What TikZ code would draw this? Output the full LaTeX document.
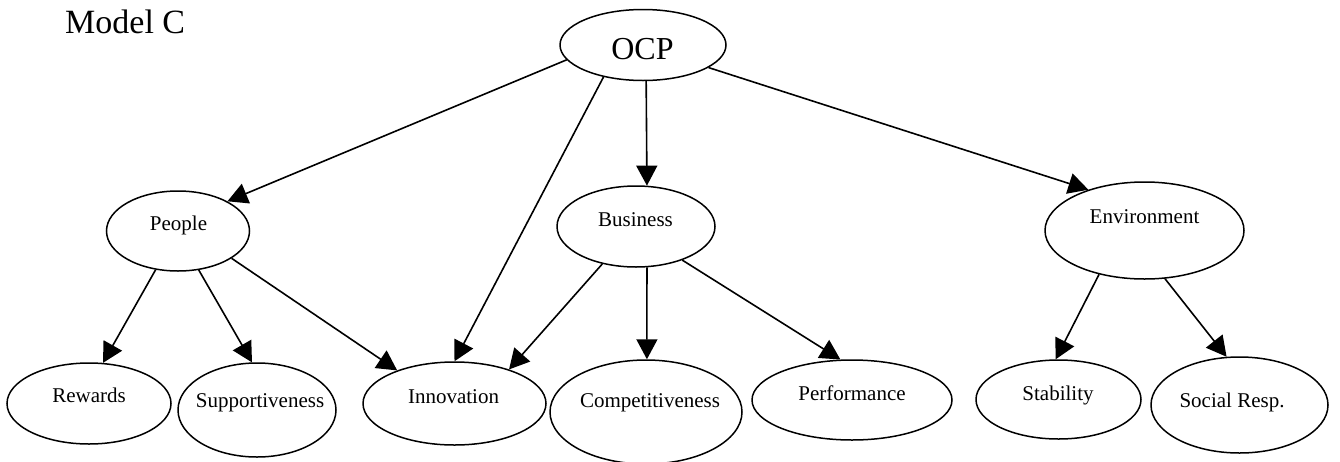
\documentclass[tikz,border=0pt]{standalone}
\usepackage{fontspec}
\setmainfont{Liberation Serif}
\usetikzlibrary{arrows.meta,shapes.geometric}
\begin{document}
\begin{tikzpicture}[x=1pt,y=-1pt,
  ell/.style={draw, ellipse, line width=1.5pt, inner sep=0pt},
  lab/.style={anchor=base, font=\fontsize{21}{25}\selectfont, inner sep=0pt},
  conn/.style={line width=1.6pt, -{Triangle[length=20pt,width=21pt]}}]
\useasboundingbox (0,0) rectangle (1340,461);
% ellipses
\node[ell, minimum width=166pt, minimum height=71pt] (ocp) at (643,45) {};
\node[ell, minimum width=143pt, minimum height=80pt] (people) at (178,231) {};
\node[ell, minimum width=158pt, minimum height=81pt] (business) at (636,226.5) {};
\node[ell, minimum width=199pt, minimum height=97pt] (env) at (1144.5,230.5) {};
\node[ell, minimum width=164pt, minimum height=81pt] (rewards) at (89,403.5) {};
\node[ell, minimum width=158pt, minimum height=94pt] (support) at (257,410) {};
\node[ell, minimum width=183pt, minimum height=83pt] (innov) at (454.5,403.5) {};
\node[ell, minimum width=192pt, minimum height=104pt] (comp) at (646,412) {};
\node[ell, minimum width=200pt, minimum height=80pt] (perf) at (852,400) {};
\node[ell, minimum width=165pt, minimum height=79pt] (stab) at (1058.5,399.5) {};
\node[ell, minimum width=177pt, minimum height=96pt] (social) at (1239.5,405) {};
% texts
\node[anchor=base west, font=\fontsize{34}{40}\selectfont, inner sep=0pt] (title) at (65,33) {Model C};
\node[lab, font=\fontsize{32}{38}\selectfont] (tocp) at (642.5,59) {OCP};
\node[lab] (tpeople) at (178.5,230) {People};
\node[lab] (tbusiness) at (635.5,226.5) {Business};
\node[lab] (tenv) at (1144.5,223.5) {Environment};
\node[lab] (trewards) at (89,402.5) {Rewards};
\node[lab] (tsupport) at (260,407.5) {Supportiveness};
\node[lab] (tinnov) at (453.5,403) {Innovation};
\node[lab] (tcomp) at (650,407.5) {Competitiveness};
\node[lab] (tperf) at (852,400) {Performance};
\node[lab] (tstab) at (1058,400) {Stability};
\node[lab] (tsocial) at (1232,407.5) {Social Resp.};
% connectors
\draw[conn] (ocp.191) -- (people.31);
\draw[conn] (ocp.219) -- (innov.90);
\draw[conn] (ocp.275) -- (business.75);
\draw[conn] (ocp.341) -- (env.144);
\draw[conn] (people.240) -- (rewards.71);
\draw[conn] (people.298) -- (support.96);
\draw[conn] (people.333) -- (innov.150);
\draw[conn] (business.228) -- (innov.32);
\draw[conn] (business.285) -- (comp.89);
\draw[conn] (business.324) -- (perf.106);
\draw[conn] (env.224) -- (stab.94);
\draw[conn] (env.293) -- (social.105);
\end{tikzpicture}
\end{document}
